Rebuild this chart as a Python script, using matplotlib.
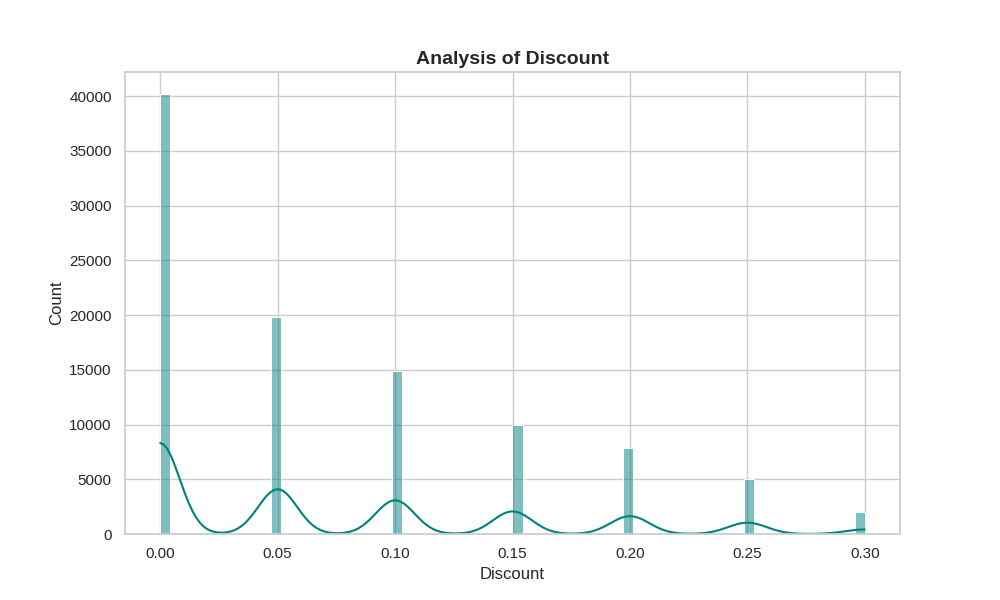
import numpy as np
import matplotlib
matplotlib.use("Agg")
import matplotlib.pyplot as plt
import seaborn as sns

# discount levels and how many orders had each one
discounts = [0.00, 0.05, 0.10, 0.15, 0.20, 0.25, 0.30]
counts = [40200, 19800, 14900, 10000, 7900, 5000, 2000]

sns.set_theme(style="whitegrid")
plt.rcParams['font.family'] = ['Liberation Sans', 'DejaVu Sans']

# rebuild the raw column from the counts so histplot can bin it
discount_col = np.repeat(discounts, counts)

fig, ax = plt.subplots(figsize=(10, 6))
sns.histplot(discount_col, kde=True, color="teal", ax=ax)
ax.set_title("Analysis of Discount", fontsize=14, fontweight="bold")
ax.set_xlabel("Discount")
ax.set_ylabel("Count")

fig.savefig("out.png", dpi=100)
